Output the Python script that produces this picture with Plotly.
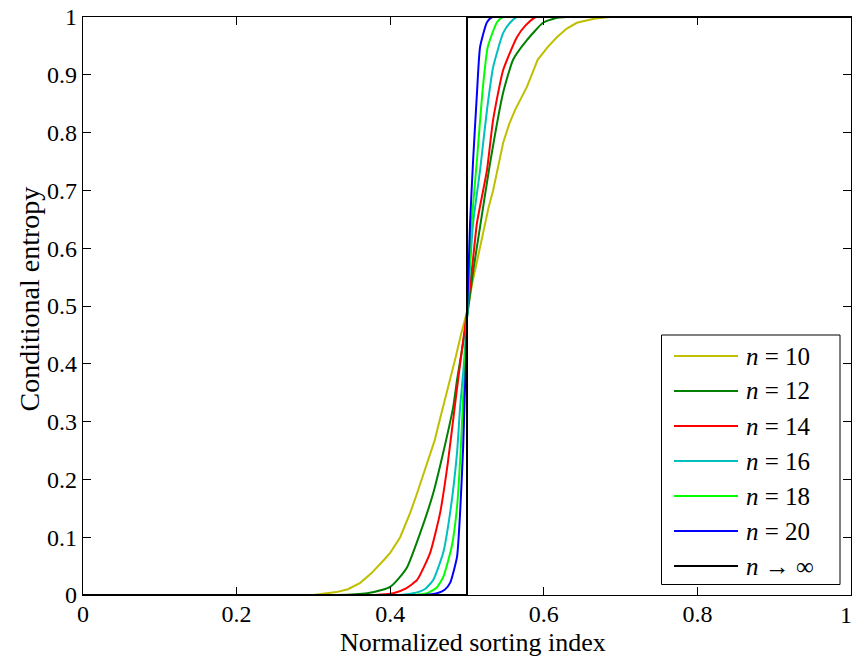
import plotly.graph_objects as go

# ---- data ----
x_n10 = [0, 0.30, 0.33, 0.345, 0.361, 0.375, 0.39, 0.40, 0.413, 0.426, 0.435, 0.445, 0.452, 0.458, 0.464,
         0.469, 0.478, 0.485, 0.492, 0.50, 0.507, 0.515, 0.521, 0.528, 0.534, 0.541, 0.547, 0.555, 0.5625,
         0.578, 0.592, 0.605, 0.617, 0.630, 0.643, 0.665, 0.686, 1]
y_n10 = [0, 0, 0.005, 0.01, 0.021, 0.037, 0.058, 0.073, 0.10, 0.142, 0.176, 0.216, 0.24, 0.268, 0.30,
         0.325, 0.372, 0.41, 0.45, 0.49, 0.54, 0.59, 0.631, 0.67, 0.70, 0.745, 0.782, 0.815, 0.839,
         0.879, 0.926, 0.948, 0.965, 0.98, 0.99, 0.997, 1, 1]

x_n12 = [0, 0.33, 0.37, 0.39, 0.40, 0.41, 0.422, 0.439, 0.456, 0.469, 0.482, 0.487, 0.493, 0.50, 0.508,
         0.517, 0.530, 0.547, 0.560, 0.578, 0.599, 0.615, 0.63, 1]
y_n12 = [0, 0, 0.003, 0.009, 0.014, 0.027, 0.048, 0.107, 0.176, 0.246, 0.325, 0.372, 0.42, 0.48, 0.56,
         0.637, 0.747, 0.869, 0.926, 0.96, 0.99, 0.998, 1, 1]

x_n14 = [0, 0.38, 0.404, 0.42, 0.435, 0.452, 0.465, 0.475, 0.484, 0.492, 0.50, 0.507, 0.513, 0.526,
         0.534, 0.547, 0.565, 0.576, 0.59, 1]
y_n14 = [0, 0, 0.003, 0.011, 0.026, 0.073, 0.142, 0.228, 0.325, 0.41, 0.49, 0.57, 0.644, 0.735,
         0.822, 0.908, 0.965, 0.985, 1, 1]

x_n16 = [0, 0.41, 0.43, 0.445, 0.456, 0.469, 0.478, 0.487, 0.491, 0.496, 0.50, 0.504, 0.508, 0.517,
         0.526, 0.534, 0.547, 0.556, 0.565, 1]
y_n16 = [0, 0, 0.003, 0.01, 0.026, 0.073, 0.142, 0.246, 0.325, 0.40, 0.48, 0.57, 0.644, 0.735,
         0.839, 0.913, 0.972, 0.99, 1, 1]

x_n18 = [0, 0.43, 0.448, 0.46, 0.469, 0.48, 0.487, 0.492, 0.495, 0.498, 0.50, 0.503, 0.506, 0.513,
         0.52, 0.527, 0.539, 0.547, 1]
y_n18 = [0, 0, 0.003, 0.012, 0.031, 0.083, 0.152, 0.256, 0.343, 0.42, 0.48, 0.56, 0.644, 0.753,
         0.869, 0.948, 0.991, 1, 1]

x_n20 = [0, 0.445, 0.461, 0.471, 0.478, 0.487, 0.491, 0.495, 0.497, 0.499, 0.50, 0.502, 0.504, 0.508,
         0.513, 0.517, 0.526, 0.533, 1]
y_n20 = [0, 0, 0.003, 0.009, 0.021, 0.066, 0.142, 0.256, 0.343, 0.42, 0.48, 0.56, 0.644, 0.753,
         0.869, 0.948, 0.991, 1, 1]

x_inf = [0, 0.5, 0.5, 1]
y_inf = [0, 0, 1, 1]

series_names = ["<i>n</i>\u2005=\u200510", "<i>n</i>\u2005=\u200512", "<i>n</i>\u2005=\u200514",
                "<i>n</i>\u2005=\u200516", "<i>n</i>\u2005=\u200518", "<i>n</i>\u2005=\u200520",
                "<i>n</i>\u2005→\u2005∞"]
series_x = [x_n10, x_n12, x_n14, x_n16, x_n18, x_n20, x_inf]
series_y = [y_n10, y_n12, y_n14, y_n16, y_n18, y_n20, y_inf]
colors = ["#BFBF00", "#008000", "#FF0000", "#00BFBF", "#00FF00", "#0000FF", "#000000"]

x_ticks = [0, 0.2, 0.4, 0.6, 0.8, 1]
x_ticktext = ["0", "0.2", "0.4", "0.6", "0.8", "1"]
y_ticks = [0, 0.1, 0.2, 0.3, 0.4, 0.5, 0.6, 0.7, 0.8, 0.9, 1]
y_ticktext = ["0", "0.1", "0.2", "0.3", "0.4", "0.5", "0.6", "0.7", "0.8", "0.9", "1"]

FONT = "Liberation Serif"

# plot area geometry (pixels)
W, H = 854, 660
L, R, T, B = 83, 3, 17, 65
PW, PH = W - L - R, H - T - B


def px(xp):   # pixel x -> paper x
    return (xp - L) / PW


def py(yp):   # pixel y -> paper y
    return (H - B - yp) / PH


fig = go.Figure()
for name, xs, ys, c in zip(series_names, series_x, series_y, colors):
    shape = "linear" if name.endswith("10") or "∞" in name else "spline"
    fig.add_trace(go.Scatter(x=xs, y=ys, mode="lines", name=name, showlegend=False,
                             line=dict(color=c, width=2, shape=shape, smoothing=0.5)))

# ---- manual legend (MATLAB style) ----
shapes = [dict(type="rect", xref="paper", yref="paper",
               x0=px(661.5), x1=px(840), y0=py(584.5), y1=py(335),
               line=dict(color="black", width=1), fillcolor="white", layer="above")]
annotations = []
entry_y0, entry_dy = 356.0, 35.0
for i, (name, c) in enumerate(zip(series_names, colors)):
    yy = py(entry_y0 + i * entry_dy)
    shapes.append(dict(type="line", xref="paper", yref="paper",
                       x0=px(674), x1=px(738), y0=yy, y1=yy,
                       line=dict(color=c, width=2), layer="above"))
    annotations.append(dict(xref="paper", yref="paper", x=px(744), y=yy,
                            xanchor="left", yanchor="middle", showarrow=False,
                            text=name, font=dict(family=FONT, size=25, color="black")))

# last x tick label placed so it stays inside the page
annotations.append(dict(xref="x", yref="paper", x=x_ticks[-1], y=py(600),
                        xanchor="right", yanchor="top", showarrow=False, xshift=3,
                        text=x_ticktext[-1], font=dict(family=FONT, size=24, color="black")))

# axis titles
annotations.append(dict(xref="paper", yref="paper", x=px(473), y=py(659),
                        xanchor="center", yanchor="bottom", showarrow=False,
                        text="Normalized sorting index",
                        font=dict(family=FONT, size=26, color="black")))
annotations.append(dict(xref="paper", yref="paper", x=px(29), y=py(299.5),
                        xanchor="center", yanchor="middle", showarrow=False, textangle=-90,
                        text="Conditional entropy",
                        font=dict(family=FONT, size=28, color="black")))

fig.update_layout(
    width=W, height=H,
    margin=dict(l=L, r=R, t=T, b=B, autoexpand=False),
    paper_bgcolor="white", plot_bgcolor="white",
    font=dict(family=FONT, size=24, color="black"),
    showlegend=False,
    shapes=shapes, annotations=annotations,
)
fig.update_xaxes(range=[0, 1], tickvals=x_ticks, ticktext=x_ticktext[:-1] + [""],
                 ticks="inside", ticklen=8, tickwidth=1, tickcolor="black",
                 showline=True, linecolor="black", linewidth=1.2, mirror="ticks",
                 showgrid=False, zeroline=False, ticklabeloverflow="allow",
                 ticklabelstandoff=-3,
                 tickfont=dict(family=FONT, size=24, color="black"))
fig.update_yaxes(range=[0, 1], tickvals=y_ticks, ticktext=y_ticktext,
                 ticks="inside", ticklen=8, tickwidth=1, tickcolor="black",
                 showline=True, linecolor="black", linewidth=1.2, mirror="ticks",
                 showgrid=False, zeroline=False, ticklabeloverflow="allow",
                 tickfont=dict(family=FONT, size=24, color="black"))

fig.write_html("out.html")
